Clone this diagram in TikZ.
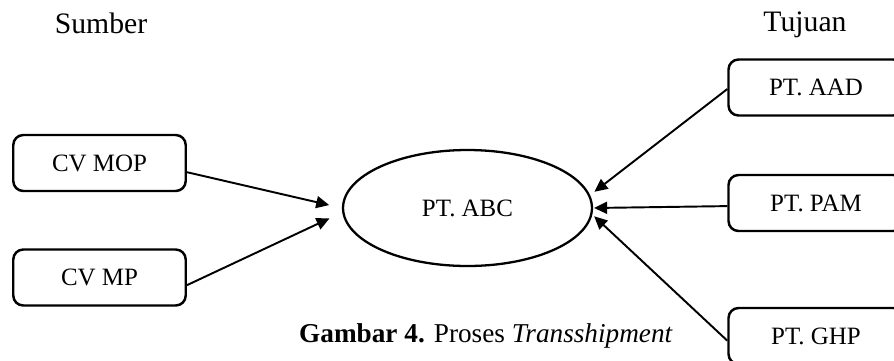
\documentclass[tikz,border=0pt]{standalone}
\usepackage{fontspec}
\setmainfont{Liberation Serif}
\usetikzlibrary{shapes.geometric, arrows.meta}
\tikzstyle{firma} = [rectangle, rounded corners=0.2cm, minimum width=3.45cm, minimum height=1.12cm, inner sep=0pt, text centered, draw=black, line width=1.4pt, font=\fontsize{14.2}{17}\selectfont]
\tikzstyle{tujuanbox} = [firma, minimum width=3.5cm]
\tikzstyle{hub} = [ellipse, minimum width=4.98cm, minimum height=2.32cm, inner sep=0pt, draw=black, line width=1.3pt, font=\fontsize{14.2}{17}\selectfont]
\tikzstyle{judul} = [anchor=base, font=\fontsize{16.9}{20}\selectfont]
\tikzstyle{flow} = [line width=1.1pt, -{Triangle[length=0.26cm, width=0.24cm]}]

\begin{document}
\begin{tikzpicture}[x=0.02cm, y=-0.02cm]
    \useasboundingbox (0,0) rectangle (894,360);
    % judul kolom
    \node[judul] (sumber) at (101,33) {Sumber};
    \node[judul] (tujuan) at (805,31) {Tujuan};
    % sumber
    \node[firma] (mop) at (99.5,163) {CV MOP};
    \node[firma] (mp) at (99.5,277.5) {CV MP};
    % transshipment
    \node[hub] (abc) at (467.5,208) {PT. ABC};
    % tujuan
    \node[tujuanbox] (aad) at (816,87.5) {PT. AAD};
    \node[tujuanbox] (pam) at (816,203) {PT. PAM};
    \node[tujuanbox] (ghp) at (816,336) {PT. GHP};
    % aliran
    \draw[flow, shorten >=0.26cm] (mop.-6.5) -- (abc.west);
    \draw[flow, shorten >=0.28cm] (mp.-5.5) -- (abc.182.75);
    \draw[flow, shorten >=0.11cm] (aad.181.7) -- (abc.6.5);
    \draw[flow, shorten >=0.02cm] (pam.182.7) -- (abc.east);
    \draw[flow, shorten >=0.05cm] (ghp.183.3) -- (abc.-3.4);
    \node[anchor=base, font=\fontsize{15.5}{18}\selectfont] (caption) at (486,342) {\textbf{Gambar 4.} Proses \textit{Transshipment}};
\end{tikzpicture}
\end{document}
